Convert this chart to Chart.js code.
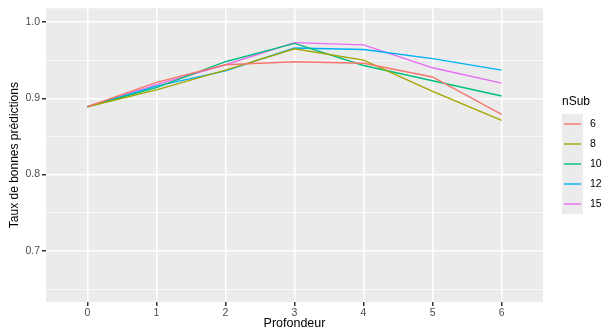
<!DOCTYPE html>
<html>
<head>
<meta charset="utf-8">
<script src="https://cdn.jsdelivr.net/npm/chart.js@4"></script>
<style>
  html, body { margin: 0; padding: 0; background: #fff; }
  #wrap { width: 603px; height: 331px; position: relative; }
</style>
</head>
<body>
<div id="wrap"><canvas id="chart"></canvas></div>
<script>
// depth (profondeur) values on x
const profondeur = [0, 1, 2, 3, 4, 5, 6];
const nSub = ['6', '8', '10', '12', '15'];
const couleurs = ['#F8766D', '#A3A500', '#00BF7D', '#00B0F6', '#E76BF3'];

// taux de bonnes predictions, one array per nSub
const taux6  = [0.889, 0.921, 0.944, 0.948, 0.946, 0.928, 0.879];
const taux8  = [0.889, 0.911, 0.937, 0.965, 0.950, 0.909, 0.871];
const taux10 = [0.889, 0.914, 0.948, 0.972, 0.943, 0.923, 0.903];
const taux12 = [0.889, 0.916, 0.936, 0.966, 0.964, 0.952, 0.937];
const taux15 = [0.889, 0.918, 0.944, 0.973, 0.970, 0.940, 0.920];
const series = [taux6, taux8, taux10, taux12, taux15];

const yTicks = [0.65, 0.7, 0.75, 0.8, 0.85, 0.9, 0.95, 1.0];
const yLabels = [0.7, 0.8, 0.9, 1.0];

const isMajorY = v => yLabels.some(l => Math.abs(l - v) < 1e-6);
const FONT = '"Liberation Sans", Arial, sans-serif';

const datasets = series.map((vals, i) => ({
    label: nSub[i],
    data: vals.map((v, j) => ({ x: profondeur[j], y: v })),
    borderColor: couleurs[i],
    backgroundColor: couleurs[i],
    borderWidth: 1.4,
    pointRadius: 0,
    tension: 0
}));

// grey panel behind the plot
const panelBg = {
    id: 'panelBg',
    beforeDraw(chart) {
        const a = chart.chartArea;
        const ctx = chart.ctx;
        ctx.save();
        ctx.fillStyle = '#EBEBEB';
        ctx.fillRect(a.left, a.top, a.right - a.left, a.bottom - a.top);
        ctx.restore();
    }
};

// ggplot-like legend on the right
const ggLegend = {
    id: 'ggLegend',
    afterDraw(chart) {
        const ctx = chart.ctx;
        const x0 = 562, y0 = 114, key = 20;
        ctx.save();
        ctx.fillStyle = '#000';
        ctx.font = '12px ' + FONT;
        ctx.textBaseline = 'middle';
        ctx.fillText('nSub', 562, 102);
        chart.data.datasets.forEach((ds, i) => {
            const y = y0 + i * key;
            ctx.fillStyle = '#EBEBEB';
            ctx.fillRect(x0, y, 21, key);
            ctx.strokeStyle = ds.borderColor;
            ctx.lineWidth = 1.4;
            ctx.beginPath();
            ctx.moveTo(x0 + 2, y + key / 2);
            ctx.lineTo(x0 + 19, y + key / 2);
            ctx.stroke();
            ctx.fillStyle = '#000';
            ctx.font = '10.5px ' + FONT;
            ctx.fillText(ds.label, x0 + 28, y + key / 2);
        });
        ctx.restore();
    }
};

new Chart(document.getElementById('chart'), {
    type: 'line',
    data: { datasets: datasets },
    plugins: [panelBg, ggLegend],
    options: {
        responsive: true,
        maintainAspectRatio: false,
        animation: false,
        layout: { padding: { top: 8, right: 60, bottom: 0, left: 0 } },
        plugins: {
            legend: { display: false },
            tooltip: { enabled: false }
        },
        scales: {
            x: {
                type: 'linear',
                min: -0.6,
                max: 6.6,
                afterBuildTicks: axis => { axis.ticks = profondeur.map(v => ({ value: v })); },
                afterFit: axis => { axis.height = 29; },
                border: { display: false },
                grid: {
                    color: '#FFFFFF',
                    lineWidth: 1.5,
                    tickColor: '#333333',
                    tickLength: 4,
                    drawTicks: true
                },
                ticks: {
                    color: '#4D4D4D',
                    font: { family: FONT, size: 10.5 },
                    padding: 1,
                    maxRotation: 0
                },
                title: {
                    display: true,
                    text: 'Profondeur',
                    color: '#000',
                    font: { family: FONT, size: 12.5 },
                    padding: { top: 0, bottom: 0 }
                }
            },
            y: {
                type: 'linear',
                min: 0.633,
                max: 1.018,
                afterBuildTicks: axis => { axis.ticks = yTicks.map(v => ({ value: v })); },
                afterFit: axis => { axis.width = 46; },
                border: { display: false },
                grid: {
                    color: '#FFFFFF',
                    lineWidth: ctx => isMajorY(ctx.tick.value) ? 1.5 : 0.7,
                    tickColor: ctx => isMajorY(ctx.tick.value) ? '#333333' : 'rgba(0,0,0,0)',
                    tickLength: 4
                },
                ticks: {
                    color: '#4D4D4D',
                    font: { family: FONT, size: 10.5 },
                    padding: 2,
                    callback: v => isMajorY(v) ? v.toFixed(1) : ''
                },
                title: {
                    display: true,
                    text: 'Taux de bonnes prédictions',
                    color: '#000',
                    font: { family: FONT, size: 12 },
                    padding: { top: 7, bottom: 0 }
                }
            }
        }
    }
});
</script>
</body>
</html>
